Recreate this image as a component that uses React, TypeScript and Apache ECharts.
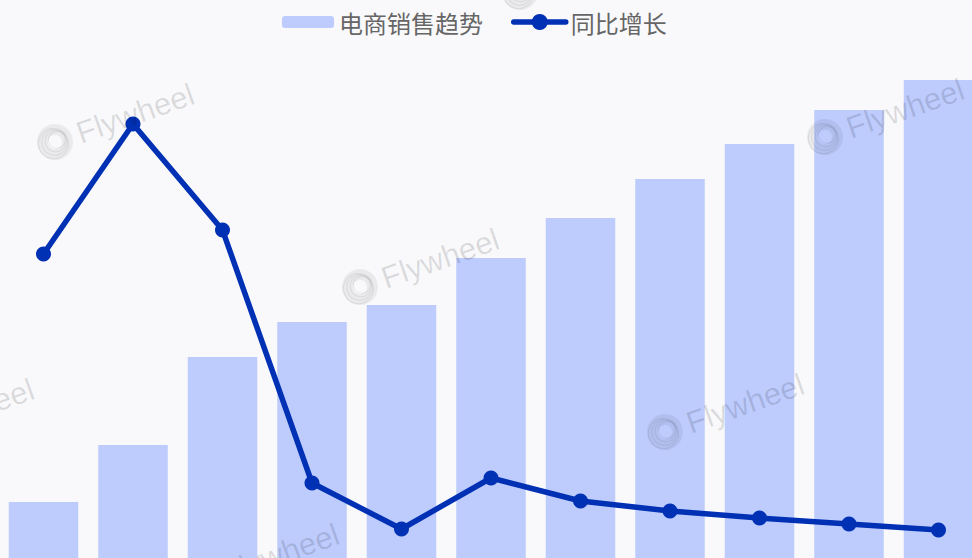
import { useEffect, useRef } from 'react';
import * as echarts from 'echarts';

const categories = ['1月', '2月', '3月', '4月', '5月', '6月', '7月', '8月', '9月', '10月', '11月'];
const salesValues = [980, 1550, 2430, 2780, 2950, 3420, 3820, 4210, 4560, 4900, 5200];
const growthValues = [34.6, 47.6, 37.0, 11.7, 7.1, 12.2, 9.9, 8.9, 8.2, 7.6, 7.0];
const salesName = '电商销售趋势';
const growthName = '同比增长';
const watermarkText = 'Flywheel';

function buildWatermarks() {
  const items: any[] = [];
  for (let m = -3; m <= 5; m++) {
    for (let n = -3; n <= 4; n++) {
      const x = 55 + 305 * m - 160 * n;
      const y = 142 + 145 * m + 295 * n;
      if (x < -260 || x > 1100 || y < -80 || y > 660) continue;
      const children: any[] = [
        {
          type: 'ring',
          z: 100,
          shape: { cx: 0, cy: 0, r: 18, r0: 7 },
          style: { fill: 'rgba(0,0,0,0.06)' },
        },
      ];
      for (let k = 0; k < 4; k++) {
        children.push({
          type: 'circle',
          z: 100,
          shape: { cx: 1.5 * k - 2, cy: -0.8 * k + 1, r: 15 - 2.2 * k },
          style: { fill: 'none', stroke: 'rgba(0,0,0,0.07)', lineWidth: 1 },
        });
      }
      children.push({
        type: 'text',
        z: 100,
        x: 24,
        y: 0,
        style: {
          text: watermarkText,
          fontSize: 31,
          fontFamily: 'Liberation Sans',
          fill: 'rgba(0,0,0,0.12)',
          verticalAlign: 'middle',
          align: 'left',
        },
      });
      items.push({
        type: 'group',
        x,
        y,
        rotation: 0.34,
        z: 100,
        silent: true,
        children,
      });
    }
  }
  return items;
}

export default function App() {
  const ref = useRef<HTMLDivElement>(null);
  useEffect(() => {
    if (!ref.current) return;
    const chart = echarts.init(ref.current, undefined, { renderer: 'svg' });
    chart.setOption({
      animation: false,
      backgroundColor: '#f9f9fb',
      legend: [
        {
          data: [salesName],
          left: 277,
          top: 5,
          itemWidth: 52,
          itemHeight: 12,
          textStyle: { fontSize: 24, color: '#666', fontFamily: 'Noto Sans CJK SC' },
        },
        {
          data: [growthName],
          left: 506,
          top: 5,
          itemWidth: 52,
          itemHeight: 20,
          textStyle: { fontSize: 24, color: '#666', fontFamily: 'Noto Sans CJK SC' },
          lineStyle: { width: 5.5, cap: 'round' },
        },
      ],
      grid: {
        left: -1.25,
        top: 60,
        width: 984.5,
        height: 540,
        containLabel: false,
        outerBoundsMode: 'none',
      },
      xAxis: {
        type: 'category',
        data: categories,
        show: false,
        boundaryGap: true,
      },
      yAxis: [
        { type: 'value', min: 0, max: 5400, show: false, splitLine: { show: false } },
        { type: 'value', min: 0, max: 54, show: false, splitLine: { show: false } },
      ],
      series: [
        {
          name: salesName,
          type: 'bar',
          data: salesValues,
          barWidth: 69.5,
          itemStyle: { color: '#bdcbfd' },
        },
        {
          name: growthName,
          type: 'line',
          yAxisIndex: 1,
          data: growthValues,
          symbol: 'circle',
          symbolSize: 15,
          lineStyle: { width: 5.5, color: '#0030b4' },
          itemStyle: { color: '#0030b4' },
          z: 5,
        },
      ],
      graphic: buildWatermarks(),
    });
    return () => chart.dispose();
  }, []);
  return (
    <div
      ref={ref}
      style={{ position: 'absolute', left: 0, top: 0, width: 972, height: 558 }}
    />
  );
}
